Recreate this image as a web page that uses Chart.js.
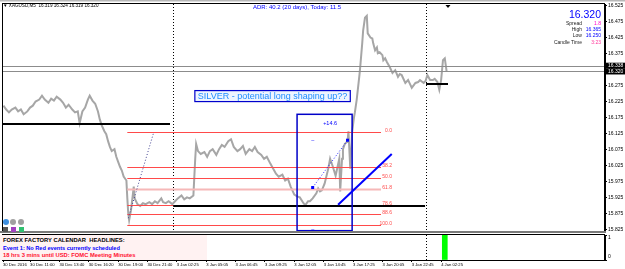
<!DOCTYPE html>
<html>
<head>
<meta charset="utf-8">
<script src="https://cdn.jsdelivr.net/npm/chart.js@4/dist/chart.umd.min.js"></script>
<style>
  body { margin: 0; width: 625px; height: 269px; overflow: hidden; background: #fff; position: relative; font-family: "Liberation Sans", Arial, sans-serif; }
  canvas { position: absolute; left: 0; }
  #main { top: 0; }
  #sub { top: 233px; }
  .t { position: absolute; white-space: nowrap; line-height: 1; }
  .r { text-align: right; }
  .ff { position: absolute; left: 0; top: 235px; width: 207px; height: 25px; background: #fff2f2; }
  .dot { position: absolute; width: 6px; height: 6px; border-radius: 50%; }
  .sq { position: absolute; width: 5px; height: 5px; }
</style>
</head>
<body>
<canvas id="main" width="625" height="235"></canvas>
<canvas id="sub" width="625" height="36"></canvas>

<div class="t" style="left:3px;top:4px;font-size:4.6px;color:#000">▼ XAGUSD,M5&nbsp; 16.319 16.324 16.319 16.320</div>
<div class="t" style="left:253px;top:4px;font-size:6px;color:#0000ff">ADR: 40.2 (20 days), Today: 11.5</div>

<div class="t r" style="right:24px;top:9px;font-size:10.5px;color:#0000ff">16.320</div>
<div class="t r" style="right:43px;top:21px;font-size:5px;color:#222">Spread</div>
<div class="t r" style="right:24px;top:21px;font-size:5px;color:#ff00cc">1.8</div>
<div class="t r" style="right:43px;top:27px;font-size:5px;color:#222">High</div>
<div class="t r" style="right:24px;top:27px;font-size:5px;color:#0000ff">16.365</div>
<div class="t r" style="right:43px;top:33px;font-size:5px;color:#222">Low</div>
<div class="t r" style="right:24px;top:33px;font-size:5px;color:#0000ff">16.250</div>
<div class="t r" style="right:43px;top:40px;font-size:5px;color:#222">Candle Time</div>
<div class="t r" style="right:24px;top:40px;font-size:5px;color:#ff3399">3:23</div>

<div class="dot" style="left:3px;top:219px;background:#3d8fe0"></div>
<div class="dot" style="left:10px;top:219px;background:#a0a0a0"></div>
<div class="dot" style="left:18px;top:219px;background:#a0a0a0"></div>
<div class="sq" style="left:3px;top:227px;background:#555"></div>
<div class="sq" style="left:11px;top:227px;background:#a040c0"></div>
<div class="sq" style="left:19px;top:227px;background:#30c070"></div>

<div class="ff"></div>
<div class="t" style="left:3px;top:238px;font-size:5.8px;font-weight:bold;color:#000">FOREX FACTORY CALENDAR&nbsp; HEADLINES:</div>
<div class="t" style="left:3px;top:245.5px;font-size:5.6px;font-weight:bold;color:#0000ff">Event 1: No Red events currently scheduled</div>
<div class="t" style="left:3px;top:253px;font-size:5.8px;font-weight:bold;color:#ff1030">18 hrs 3 mins until USD: FOMC Meeting Minutes</div>

<script>
// bar index (5 min bars) and price
const priceBar = [3,6,9,12,16,19,22,25,29,32,35,38,42,45,48,52,55,58,61,65,68,71,74,78,81,84,86,89,92,95,97,100,103,106,108,110,113,115,117,119,121,124,126,128,130,132,134,137,138,139,140,142,144,145,146,149,152,155,158,162,165,168,171,175,177,180,183,187,190,193,197,200,203,206,210,212,213,215,218,222,225,228,231,235,238,241,244,248,251,254,258,261,264,267,271,274,277,280,284,287,290,294,297,300,303,307,310,313,316,320,323,326,330,332,335,337,340,344,346,348,350,353,357,359,362,365,369,370,372,373,375,378,379,381,383,385,386,388,391,392,394,395,397,399,400,403,405,406,408,410,411,413,416,417,419,421,424,427,430,433,435,437,441,444,446,448,452,455,457,461,463,465,468,471,473,476,478,480,482,484,486];
const priceVal = [16.213,16.201,16.192,16.201,16.207,16.195,16.201,16.186,16.195,16.207,16.213,16.226,16.232,16.244,16.232,16.222,16.235,16.229,16.241,16.232,16.222,16.207,16.216,16.201,16.192,16.195,16.158,16.195,16.207,16.232,16.244,16.229,16.219,16.195,16.170,16.152,16.133,16.124,16.102,16.084,16.071,16.077,16.053,16.037,16.022,16.010,15.991,15.979,15.923,15.877,15.855,15.886,15.935,15.960,15.923,15.905,15.899,15.908,15.905,15.911,15.905,15.914,15.908,15.923,15.911,15.908,15.914,15.905,15.914,15.923,15.932,15.920,15.926,15.923,15.932,16.047,16.093,16.071,16.062,16.068,16.053,16.071,16.077,16.059,16.077,16.090,16.084,16.102,16.108,16.084,16.071,16.077,16.087,16.062,16.077,16.071,16.084,16.068,16.059,16.047,16.053,16.031,16.016,16.000,15.991,15.997,15.979,15.985,15.960,15.935,15.929,15.926,15.908,15.902,15.914,15.914,15.923,15.939,15.954,15.945,15.948,15.969,16.016,16.047,16.022,15.994,16.047,15.945,16.047,16.077,16.093,16.102,16.133,16.016,16.130,16.176,16.192,16.232,16.309,16.340,16.408,16.448,16.488,16.494,16.439,16.426,16.423,16.408,16.386,16.395,16.377,16.380,16.371,16.355,16.361,16.349,16.334,16.315,16.324,16.303,16.312,16.309,16.284,16.293,16.281,16.269,16.284,16.287,16.293,16.284,16.290,16.309,16.293,16.293,16.297,16.287,16.263,16.293,16.355,16.361,16.320];

const priceTicks = [16.525,16.475,16.425,16.375,16.325,16.275,16.225,16.175,16.125,16.075,16.025,15.975,15.925,15.875,15.825];
const timeTicks = [2.5,32,64,96,128,160,192,224,256,288,320,352,384,416,448,480];
const timeLabels = ['30 Dec 2016','30 Dec 11:00','30 Dec 13:40','30 Dec 16:20','30 Dec 19:00','30 Dec 21:40','3 Jan 02:25','3 Jan 05:05','3 Jan 06:45','3 Jan 09:25','3 Jan 12:05','3 Jan 14:45','3 Jan 17:25','3 Jan 20:05','3 Jan 22:45','4 Jan 02:25'];

// objects on the chart, in bar / price units
const dayBreaks = [188, 464];
const bidAsk = [16.338, 16.320];
const fibFrom = 138, fibTo = 414.5, fibHigh = 16.131, fibLow = 15.841;
const fibLevels = [0, 38.2, 50, 61.8, 78.6, 88.6, 100];
const blackLines = [[2.5, 184.5, 16.157], [188, 462.5, 15.899], [463.6, 487.5, 16.280]];
const boxBars = [323, 383], boxPrices = [16.186, 15.822];
const trendSolid = [[367.7, 15.903], [426.2, 16.062]];
const trendDots = [[[340, 15.957], [378, 16.105]], [[139, 15.861], [166.4, 16.126]]];
const boxText = [359, 16.158, '+14.6'];
const noteText = [296.3, 16.243, 'SILVER - potential long shaping up??'];
const shiftBar = 487.5;

const subBar = [484];
const subVal = [1];
const subTicks = [1, 0];

const xMin = 2.5, xMax = 658.6;

const overlay = {
  id: 'overlay',
  beforeDatasetsDraw(chart) {
    const { ctx, chartArea: a, scales: { x } } = chart;
    ctx.save();
    ctx.strokeStyle = '#000';
    ctx.lineWidth = 1;
    ctx.setLineDash([1, 2]);
    dayBreaks.forEach(b => {
      const px = Math.round(x.getPixelForValue(b)) + 0.5;
      ctx.beginPath(); ctx.moveTo(px, a.top); ctx.lineTo(px, a.bottom); ctx.stroke();
    });
    ctx.restore();
  },
  afterDatasetsDraw(chart) {
    const { ctx, chartArea: a, scales: { x, y } } = chart;
    const X = v => x.getPixelForValue(v), Y = v => y.getPixelForValue(v);
    ctx.save();
    ctx.beginPath(); ctx.rect(a.left, a.top, a.width + 30, a.height); ctx.clip();

    // bid / ask
    ctx.strokeStyle = '#8c8c8c'; ctx.lineWidth = 1;
    bidAsk.forEach(p => {
      const py = Math.round(Y(p)) + 0.5;
      ctx.beginPath(); ctx.moveTo(a.left, py); ctx.lineTo(a.right, py); ctx.stroke();
    });

    // fibonacci
    ctx.font = '5px "Liberation Sans"';
    ctx.textAlign = 'right'; ctx.textBaseline = 'middle';
    fibLevels.forEach(l => {
      const py = Math.round(Y(fibHigh - l / 100 * (fibHigh - fibLow))) + 0.5;
      if (l === 61.8) { ctx.strokeStyle = '#f6b8b8'; ctx.lineWidth = 2; }
      else { ctx.strokeStyle = '#ff4a4a'; ctx.lineWidth = 1; }
      ctx.beginPath(); ctx.moveTo(X(fibFrom), py); ctx.lineTo(X(fibTo), py); ctx.stroke();
      ctx.fillStyle = '#ff4a4a';
      ctx.fillText(l.toFixed(1), X(fibTo) + 11, py - 2);
    });

    // black levels
    ctx.strokeStyle = '#000'; ctx.lineWidth = 2;
    blackLines.forEach(([b0, b1, p]) => {
      const py = Math.round(Y(p));
      ctx.beginPath(); ctx.moveTo(X(b0), py); ctx.lineTo(X(b1), py); ctx.stroke();
    });

    // box
    ctx.strokeStyle = '#0000c8'; ctx.lineWidth = 1.5;
    ctx.strokeRect(X(boxBars[0]), Y(boxPrices[0]), X(boxBars[1]) - X(boxBars[0]), Y(boxPrices[1]) - Y(boxPrices[0]));
    ctx.fillStyle = '#0000ff'; ctx.textAlign = 'center'; ctx.font = '5.5px "Liberation Sans"';
    ctx.fillText(boxText[2], X(boxText[0]), Y(boxText[1]));
    ctx.fillText('–', X(trendDots[0][0][0]), Y(trendDots[0][1][1]));
    ctx.fillText('–', X(trendDots[0][0][0]), Y(boxPrices[1]) - 1.5);

    // trend lines
    ctx.strokeStyle = '#0000ff'; ctx.lineWidth = 2;
    ctx.beginPath(); ctx.moveTo(X(trendSolid[0][0]), Y(trendSolid[0][1])); ctx.lineTo(X(trendSolid[1][0]), Y(trendSolid[1][1])); ctx.stroke();
    ctx.lineWidth = 1; ctx.setLineDash([1, 2]);
    trendDots.forEach((seg, i) => {
      ctx.strokeStyle = i === 0 ? '#2020ff' : '#404090';
      ctx.beginPath(); ctx.moveTo(X(seg[0][0]), Y(seg[0][1])); ctx.lineTo(X(seg[1][0]), Y(seg[1][1])); ctx.stroke();
    });
    ctx.setLineDash([]);
    ctx.fillStyle = '#0000ff';
    trendDots[0].forEach(([b, p]) => ctx.fillRect(X(b) - 1.5, Y(p) - 1.5, 3, 3));

    // note label
    ctx.font = '9px "Liberation Sans"';
    const w = ctx.measureText(noteText[2]).width;
    const cx = X(noteText[0]), cy = Y(noteText[1]);
    ctx.fillStyle = '#eef5ff';
    ctx.fillRect(cx - w / 2 - 3, cy - 5.5, w + 6, 11);
    ctx.strokeStyle = '#0000cc'; ctx.lineWidth = 1.2;
    ctx.strokeRect(cx - w / 2 - 3, cy - 5.5, w + 6, 11);
    ctx.fillStyle = '#1e8cff'; ctx.textAlign = 'center'; ctx.textBaseline = 'middle';
    ctx.fillText(noteText[2], cx, cy + 0.5);
    ctx.restore();
  },
  afterDraw(chart) {
    const { ctx, chartArea: a, scales: { x, y } } = chart;
    ctx.save();
    // frame
    ctx.strokeStyle = '#000'; ctx.lineWidth = 1;
    ctx.strokeRect(a.left - 0.5, a.top - 0.5, a.width, a.height + 1);
    ctx.fillStyle = '#b8b8b8';
    ctx.fillRect(0, 0, 625, 1.5);
    ctx.fillStyle = '#7a7a7a';
    ctx.fillRect(0, a.bottom, a.right + 1, 2);
    // shift marker
    const sx = x.getPixelForValue(shiftBar);
    ctx.fillStyle = '#000';
    ctx.beginPath(); ctx.moveTo(sx - 2.5, a.top + 1); ctx.lineTo(sx + 2.5, a.top + 1); ctx.lineTo(sx, a.top + 4); ctx.fill();
    // price boxes
    ctx.font = '5px "Liberation Sans"'; ctx.textBaseline = 'middle'; ctx.textAlign = 'left';
    bidAsk.forEach(p => {
      const py = y.getPixelForValue(p);
      ctx.fillStyle = '#000'; ctx.fillRect(a.right, py - 3, 20, 6);
      ctx.fillStyle = '#fff'; ctx.fillText(p.toFixed(3), a.right + 3, py);
    });
    ctx.restore();
  }
};

new Chart(document.getElementById('main'), {
  type: 'line',
  data: {
    datasets: [{
      data: priceBar.map((b, i) => ({ x: b, y: priceVal[i] })),
      borderColor: '#a6a6a6',
      borderWidth: 2,
      pointRadius: 0,
      tension: 0
    }]
  },
  options: {
    responsive: false,
    animation: false,
    layout: { padding: { left: 3, top: 3, right: 0, bottom: 2 } },
    plugins: { legend: { display: false }, tooltip: { enabled: false } },
    scales: {
      x: { type: 'linear', min: xMin, max: xMax, display: false },
      y: {
        position: 'right',
        min: 15.821, max: 16.531,
        afterBuildTicks: s => { s.ticks = priceTicks.map(v => ({ value: v })); },
        afterFit: s => { s.width = 20; },
        ticks: { autoSkip: false, padding: 1, color: '#000', font: { size: 5, family: 'Liberation Sans' }, callback: v => v.toFixed(3) },
        grid: { drawOnChartArea: false, tickLength: 2, color: '#000' },
        border: { color: '#000' }
      }
    }
  },
  plugins: [overlay]
});

const subOverlay = {
  id: 'subOverlay',
  beforeDatasetsDraw(chart) {
    const { ctx, chartArea: a, scales: { x } } = chart;
    ctx.save();
    ctx.strokeStyle = '#000'; ctx.setLineDash([1, 2]);
    dayBreaks.forEach(b => {
      const px = Math.round(x.getPixelForValue(b)) + 0.5;
      ctx.beginPath(); ctx.moveTo(px, a.top); ctx.lineTo(px, a.bottom + 2); ctx.stroke();
    });
    ctx.restore();
  },
  afterDraw(chart) {
    const { ctx, chartArea: a, scales: { y } } = chart;
    ctx.save();
    ctx.strokeStyle = '#000'; ctx.lineWidth = 1;
    ctx.strokeRect(a.left - 0.5, a.top - 0.5, a.width, a.height + 1);
    ctx.fillStyle = '#000'; ctx.font = '5px "Liberation Sans"'; ctx.textAlign = 'left'; ctx.textBaseline = 'middle';
    subTicks.forEach(v => ctx.fillText(String(v), a.right + 3, y.getPixelForValue(v) + (v ? 3 : -3)));
    ctx.restore();
  }
};

new Chart(document.getElementById('sub'), {
  type: 'bar',
  data: {
    datasets: [{
      data: subBar.map((b, i) => ({ x: b, y: subVal[i] })),
      backgroundColor: '#00ff00',
      barThickness: 5
    }]
  },
  options: {
    responsive: false,
    animation: false,
    layout: { padding: { left: 3, top: 2, right: 0, bottom: 0 } },
    plugins: { legend: { display: false }, tooltip: { enabled: false } },
    scales: {
      x: {
        type: 'linear', min: xMin, max: xMax, offset: false,
        afterBuildTicks: s => { s.ticks = timeTicks.map(v => ({ value: v })); },
        afterFit: s => { s.height = 9; },
        ticks: { autoSkip: false, maxRotation: 0, align: 'start', padding: 0, color: '#000', font: { size: 4.2, family: 'Liberation Sans' }, callback: (v, i) => timeLabels[i] },
        grid: { drawOnChartArea: false, offset: false, tickLength: 2, color: '#000' },
        border: { color: '#000' }
      },
      y: {
        position: 'right', min: 0, max: 1,
        afterBuildTicks: s => { s.ticks = subTicks.map(v => ({ value: v })); },
        afterFit: s => { s.width = 20; },
        ticks: { display: false },
        grid: { drawOnChartArea: false, tickLength: 2, color: '#000' },
        border: { color: '#000' }
      }
    }
  },
  plugins: [subOverlay]
});
</script>
</body>
</html>
